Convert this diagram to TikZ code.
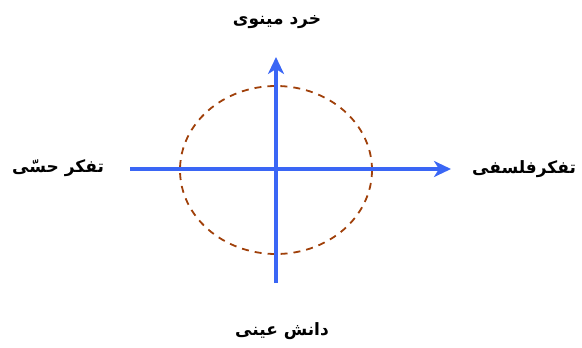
\documentclass[tikz,border=0pt]{standalone}
\usepackage{fontspec}
\usetikzlibrary{arrows.meta}
\TeXXeTstate=1
\newfontfamily\arabicfont[Script=Arabic]{DejaVu Sans}
\definecolor{axisblue}{HTML}{3A66F5}
\definecolor{ringbrown}{HTML}{A0400A}
\tikzset{
  axisline/.style={draw=axisblue, line width=4.5pt, -{Stealth[length=17pt,width=16pt,inset=5pt]}},
  ring/.style={draw=ringbrown, line width=1.8pt, dash pattern=on 7pt off 6pt},
  lbl/.style={font=\arabicfont\bfseries\fontsize{17}{20}\selectfont, inner sep=0pt}
}
\begin{document}
\begin{tikzpicture}[x=1pt,y=-1pt]
\useasboundingbox (0,0) rectangle (582,348);
\draw[ring] (276,170) ellipse [x radius=96, y radius=84];
\coordinate (hs) at (130,169);
\coordinate (he) at (451,169);
\coordinate (vs) at (276,283);
\coordinate (ve) at (276,57);
\draw[axisline] (hs) -- (he);
\draw[axisline] (vs) -- (ve);
\node[lbl] (top) at (277,22) {\beginR خرد مینوی\endR};
\node[lbl] (left) at (58,168) {\beginR تفکر حسّی\endR};
\node[lbl] (right) at (524,169) {\beginR تفکرفلسفی\endR};
\node[lbl] (bottom) at (282,331) {\beginR دانش عینی\endR};
\end{tikzpicture}
\end{document}
